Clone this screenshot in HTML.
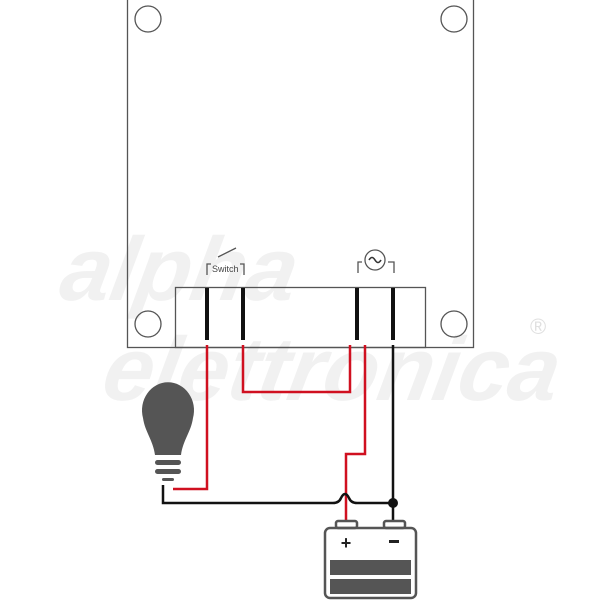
<!DOCTYPE html>
<html><head><style>body{margin:0;background:#fff}svg{display:block}</style></head><body>
<svg width="600" height="600" viewBox="0 0 600 600" xmlns="http://www.w3.org/2000/svg">
<rect width="600" height="600" fill="#fff"/>
<g fill="#f1f1f1" font-family="Liberation Sans, sans-serif" font-style="italic" font-weight="bold">
<text x="110" y="300" font-size="90" transform="skewX(-10)">alpha</text>
<text x="170" y="400" font-size="90" transform="skewX(-10)">elettronica</text>
</g>
<text x="530" y="334" font-size="22" fill="#e0e0e0" font-family="Liberation Sans, sans-serif">®</text>
<rect x="127.5" y="-2" width="346" height="349.5" fill="none" stroke="#555" stroke-width="1.3"/>
<g fill="none" stroke="#555" stroke-width="1.3">
<circle cx="148" cy="19" r="13"/><circle cx="454" cy="19" r="13"/>
<circle cx="148" cy="324" r="13"/><circle cx="454" cy="324" r="13"/>
<rect x="175.5" y="287.5" width="250" height="60"/>
<path d="M207 275 V264 H211 M240 264 H244 V275"/>
<path d="M218 257 L236 248"/>
<path d="M358 273 V262 H362 M388 262 H394 V273"/>
<circle cx="375" cy="260" r="10"/>
</g>
<text x="212" y="272" font-size="9" fill="#444" font-family="Liberation Sans, sans-serif">Switch</text>
<path d="M369 260 q3 -5 6 0 t6 0" fill="none" stroke="#333" stroke-width="1.6"/>
<g stroke="#111" stroke-width="4">
<line x1="207" y1="288" x2="207" y2="340"/><line x1="243" y1="288" x2="243" y2="340"/>
<line x1="357" y1="288" x2="357" y2="340"/><line x1="393" y1="288" x2="393" y2="340"/>
</g>
<g fill="none" stroke="#d01020" stroke-width="2.5">
<path d="M207 345 V489 H173"/>
<path d="M243 345 V392 H350 V345"/>
<path d="M365 345 V454 H346 V520"/>
</g>
<g fill="none" stroke="#111" stroke-width="2.5">
<path d="M393 345 V520"/>
<path d="M163 485 V503 H333 Q339 503 341 498 Q345 490 349 498 Q351 503 357 503 H393"/>
</g>
<circle cx="393" cy="503" r="5" fill="#111"/>
<g fill="#555">
<path d="M143 418 A26 28 0 1 1 193 418 C191 432 183 440 181 455 H155 C153 440 145 432 143 418 Z"/>
<rect x="155" y="460" width="26" height="5" rx="2.5"/>
<rect x="155" y="469" width="26" height="5" rx="2.5"/>
<rect x="162" y="478" width="12" height="3" rx="1.5"/>
</g>
<g fill="none" stroke="#555" stroke-width="2.5">
<rect x="325" y="528" width="91" height="70" rx="5"/>
<rect x="336" y="521" width="21" height="7" rx="2"/>
<rect x="384" y="521" width="21" height="7" rx="2"/>
</g>
<g fill="#555">
<rect x="330" y="560" width="81" height="15"/>
<rect x="330" y="579" width="81" height="15"/>
</g>
<text x="346" y="549" font-size="18" font-weight="bold" fill="#222" text-anchor="middle" font-family="Liberation Sans, sans-serif">+</text>
<rect x="389" y="540" width="10" height="3" fill="#222"/>
</svg>
</body></html>
